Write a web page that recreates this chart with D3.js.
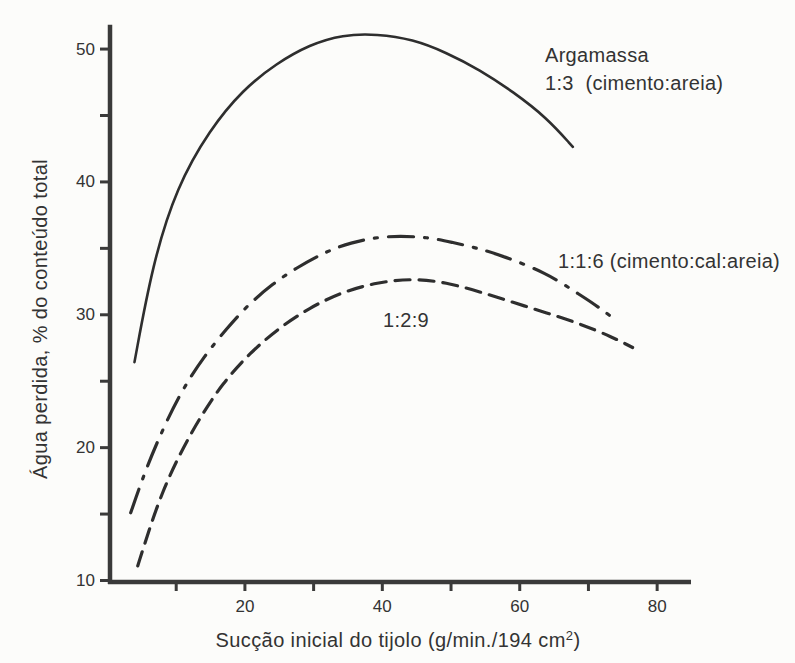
<!DOCTYPE html>
<html>
<head>
<meta charset="utf-8">
<script src="https://cdn.jsdelivr.net/npm/d3@7"></script>
<style>
  html, body { margin: 0; padding: 0; background: #fcfcfa; }
  svg { display: block; font-family: "Liberation Sans", Arial, Helvetica, sans-serif; }
  .axis path, .axis line { stroke: #3a3a3a; }
  .axis text { fill: #333; font-size: 17px; }
</style>
</head>
<body>
<div id="chart"></div>
<script>
// Water lost from mortar vs. initial brick suction, three mortar mixes.
const succao13 = [4.0, 6.65, 10.15, 14.95, 19.75, 24.7, 29.5, 34.3, 39.3, 44.5, 49.4, 54.25, 59.1, 64.0, 67.8];
const agua13   = [26.4, 33.85, 39.6, 43.9, 46.9, 48.9, 50.3, 51.05, 51.1, 50.7, 49.7, 48.4, 46.75, 44.8, 42.6];

const succao116 = [3.45, 5.05, 7.23, 10.58, 14.2, 17.4, 20.3, 24.1, 27.6, 31.4, 35.3, 40.7, 47.0, 50.3, 53.8, 57.6, 64.0, 67.8, 70.7, 73.2];
const agua116   = [15.06, 17.47, 20.34, 24.04, 26.9, 28.9, 30.6, 32.3, 33.5, 34.6, 35.4, 35.95, 35.8, 35.4, 35.0, 34.4, 33.1, 31.8, 30.85, 29.9];

const succao129 = [4.47, 6.2, 8.1, 10.6, 13.5, 16.8, 20.8, 25.1, 29.5, 34.3, 39.3, 44.5, 49.4, 54.25, 59.1, 64.0, 68.8, 73.5, 76.5];
const agua129   = [11.06, 13.9, 16.7, 19.5, 22.2, 24.8, 27.1, 29.0, 30.5, 31.7, 32.4, 32.7, 32.4, 31.7, 30.9, 30.1, 29.3, 28.3, 27.5];

const xTicks = [10, 20, 30, 40, 50, 60, 70, 80];
const xTickLabels = [20, 40, 60, 80];
const yTicks = [10, 15, 20, 25, 30, 35, 40, 45, 50];
const yTickLabels = [10, 20, 30, 40, 50];

const series = [
  {name: '1:3', x: succao13, y: agua13, dash: null, width: 2.6},
  {name: '1:1:6', x: succao116, y: agua116, dash: '25,11,3,11', width: 3.2},
  {name: '1:2:9', x: succao129, y: agua129, dash: '15,9', width: 3.2}
];

const width = 795, height = 663;
const svg = d3.select('#chart').append('svg')
  .attr('width', width).attr('height', height);

const x = d3.scaleLinear().domain([0, 85]).range([107, 691]);
const y = d3.scaleLinear().domain([10, 52]).range([580, 22]);
const axisX = 110, axisY = 582;

// axes
const xAxis = d3.axisBottom(x)
  .tickValues(xTicks)
  .tickSize(9)
  .tickPadding(9)
  .tickFormat(d => xTickLabels.includes(d) ? d : '');

const gx = svg.append('g').attr('class', 'axis')
  .attr('transform', `translate(0,${axisY})`)
  .call(xAxis);
gx.select('.domain').attr('d', `M${axisX - 2},0H${x(85)}`).attr('stroke-width', 4.5);
gx.selectAll('.tick line').attr('stroke-width', 3);

const yAxis = d3.axisLeft(y)
  .tickValues(yTicks)
  .tickSize(10)
  .tickPadding(5)
  .tickFormat(d => yTickLabels.includes(d) ? d : '');

const gy = svg.append('g').attr('class', 'axis')
  .attr('transform', `translate(${axisX},0)`)
  .call(yAxis);
gy.select('.domain').attr('d', `M0,${y(51.8)}V${axisY + 2}`).attr('stroke-width', 4.5);
gy.selectAll('.tick line').attr('stroke-width', 3);

// curves
const line = d3.line()
  .x(d => x(d[0]))
  .y(d => y(d[1]))
  .curve(d3.curveBasis);

svg.selectAll('path.curve')
  .data(series)
  .join('path')
  .attr('class', 'curve')
  .attr('fill', 'none')
  .attr('stroke', '#2e2e2e')
  .attr('stroke-width', d => d.width)
  .attr('stroke-linecap', 'round')
  .attr('stroke-dasharray', d => d.dash)
  .attr('d', d => line(d.x.map((v, i) => [v, d.y[i]])));

// labels
const lbl = svg.append('g').attr('fill', '#333').attr('font-size', 20).attr('letter-spacing', 0.3);
lbl.append('text').attr('x', 545).attr('y', 62).text('Argamassa');
lbl.append('text').attr('x', 545).attr('y', 90).attr('xml:space', 'preserve').text('1:3  (cimento:areia)');
lbl.append('text').attr('x', 558).attr('y', 268).text('1:1:6 (cimento:cal:areia)');
lbl.append('text').attr('x', 383).attr('y', 327).text('1:2:9');

const xt = svg.append('text')
  .attr('x', 398).attr('y', 647)
  .attr('text-anchor', 'middle')
  .attr('fill', '#333').attr('font-size', 20).attr('letter-spacing', 0.4)
  .text('Sucção inicial do tijolo (g/min./194 cm');
xt.append('tspan').attr('baseline-shift', 'super').attr('font-size', 13).text('2');
xt.append('tspan').text(')');

svg.append('text')
  .attr('transform', 'translate(47,319) rotate(-90)')
  .attr('text-anchor', 'middle')
  .attr('fill', '#333').attr('font-size', 20).attr('letter-spacing', 0.4)
  .text('Água perdida, % do conteúdo total');
</script>
</body>
</html>
